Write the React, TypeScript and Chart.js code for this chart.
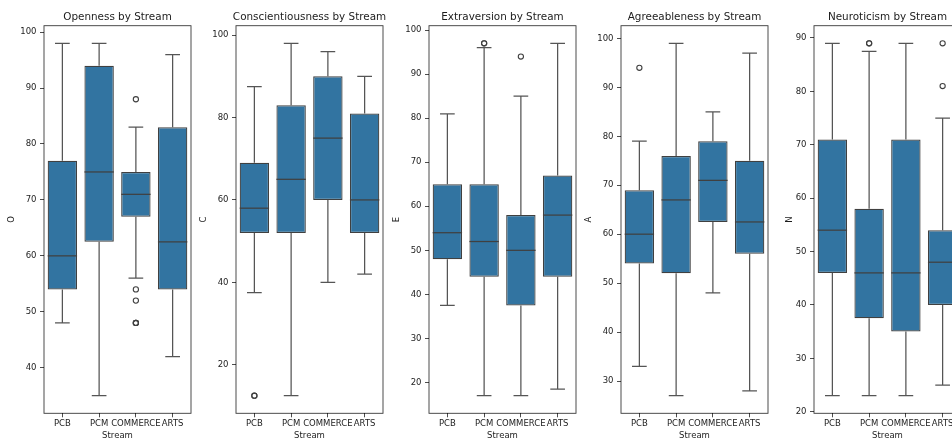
import React, { useEffect, useRef } from 'react';
import { Chart, registerables } from 'chart.js';

Chart.register(...registerables);

const streams = ['PCB', 'PCM', 'COMMERCE', 'ARTS'];

// Per-stream summaries: [lower whisker, Q1, median, Q3, upper whisker]
const openness = [
  [48, 54, 60, 77, 98],
  [35, 62.5, 75, 94, 98],
  [56, 67, 71, 75, 83],
  [42, 54, 62.5, 83, 96],
];
// Outliers as [stream index, value]
const opennessOutliers = [[2, 88], [2, 54], [2, 52], [2, 48], [2, 48], [2, 48]];
const opennessTicks = [40, 50, 60, 70, 80, 90, 100];

const conscientiousness = [
  [37.5, 52, 58, 69, 87.5],
  [12.5, 52, 65, 83, 98],
  [40, 60, 75, 90, 96],
  [42, 52, 60, 81, 90],
];
const conscientiousnessOutliers = [[0, 12.5], [0, 12.5]];
const conscientiousnessTicks = [20, 40, 60, 80, 100];

const extraversion = [
  [37.5, 48, 54, 65, 81],
  [17, 44, 52, 65, 96],
  [17, 37.5, 50, 58, 85],
  [18.5, 44, 58, 67, 97],
];
const extraversionOutliers = [[1, 97], [1, 97], [2, 94]];
const extraversionTicks = [20, 30, 40, 50, 60, 70, 80, 90, 100];

const agreeableness = [
  [33, 54, 60, 69, 79],
  [27, 52, 67, 76, 99],
  [48, 62.5, 71, 79, 85],
  [28, 56, 62.5, 75, 97],
];
const agreeablenessOutliers = [[0, 94]];
const agreeablenessTicks = [30, 40, 50, 60, 70, 80, 90, 100];

const neuroticism = [
  [23, 46, 54, 71, 89],
  [23, 37.5, 46, 58, 87.5],
  [23, 35, 46, 71, 89],
  [25, 40, 48, 54, 75],
];
const neuroticismOutliers = [[1, 89], [1, 89], [3, 89], [3, 81]];
const neuroticismTicks = [20, 30, 40, 50, 60, 70, 80, 90];

type Panel = {
  title: string;
  axisLabel: string;
  boxes: number[][];
  outliers: number[][];
  ticks: number[];
  labelOffset: number;
};

const panels: Panel[] = [
  { title: 'Openness by Stream', axisLabel: 'O', boxes: openness, outliers: opennessOutliers, ticks: opennessTicks, labelOffset: 32 },
  { title: 'Conscientiousness by Stream', axisLabel: 'C', boxes: conscientiousness, outliers: conscientiousnessOutliers, ticks: conscientiousnessTicks, labelOffset: 32 },
  { title: 'Extraversion by Stream', axisLabel: 'E', boxes: extraversion, outliers: extraversionOutliers, ticks: extraversionTicks, labelOffset: 32 },
  { title: 'Agreeableness by Stream', axisLabel: 'A', boxes: agreeableness, outliers: agreeablenessOutliers, ticks: agreeablenessTicks, labelOffset: 32 },
  { title: 'Neuroticism by Stream', axisLabel: 'N', boxes: neuroticism, outliers: neuroticismOutliers, ticks: neuroticismTicks, labelOffset: 24.4 },
];

// Layout
const FIG_W = 952;
const FIG_H = 441;
const FIRST_AXIS_LEFT = 43.7;
const PANEL_STEP = 192.5;
const AXIS_W = 147;
const Y_AXIS_W = 44;
const RIGHT_PAD = 12;
const PLOT_TOP = 25.7;
const PLOT_BOTTOM = 413.3;
const CANVAS_W = Y_AXIS_W + AXIS_W + RIGHT_PAD;

// Styles
const FONT = "'DejaVu Sans', 'Liberation Sans', sans-serif";
const BOX_FILL = '#3274a1';
const LINE = '#404040';
const WHISKER = '#555555';
const SPINE = 'rgba(0,0,0,0.78)';
const TEXT = '#1c1c1c';

function BoxPanel({ panel }: { panel: Panel }) {
  const ref = useRef<HTMLCanvasElement>(null);

  useEffect(() => {
    const canvas = ref.current;
    if (!canvas) return;
    const { boxes, outliers, ticks, title, axisLabel, labelOffset } = panel;
    const values = [...boxes.flat(), ...outliers.map((o) => o[1])];
    const lo = Math.min(...values);
    const hi = Math.max(...values);
    const margin = (hi - lo) * 0.05;

    const boxParts = {
      id: 'boxParts',
      beforeDatasetsDraw(chart: any) {
        const { ctx, scales } = chart;
        const xs = scales.x;
        const ys = scales.y;
        const bin = xs.getPixelForValue(1) - xs.getPixelForValue(0);
        const cap = bin * 0.2;
        ctx.save();
        ctx.strokeStyle = WHISKER;
        ctx.lineWidth = 1.25;
        boxes.forEach((b, i) => {
          const cx = xs.getPixelForValue(i);
          const yLow = ys.getPixelForValue(b[0]);
          const yQ1 = ys.getPixelForValue(b[1]);
          const yQ3 = ys.getPixelForValue(b[3]);
          const yHigh = ys.getPixelForValue(b[4]);
          ctx.beginPath();
          ctx.moveTo(cx, yQ3);
          ctx.lineTo(cx, yHigh);
          ctx.moveTo(cx, yQ1);
          ctx.lineTo(cx, yLow);
          ctx.moveTo(cx - cap, yHigh);
          ctx.lineTo(cx + cap, yHigh);
          ctx.moveTo(cx - cap, yLow);
          ctx.lineTo(cx + cap, yLow);
          ctx.stroke();
        });
        ctx.restore();
      },
      afterDatasetsDraw(chart: any) {
        const { ctx, scales, chartArea } = chart;
        const xs = scales.x;
        const ys = scales.y;
        const bin = xs.getPixelForValue(1) - xs.getPixelForValue(0);
        const half = bin * 0.4;
        ctx.save();
        ctx.strokeStyle = LINE;
        ctx.lineWidth = 1.25;
        boxes.forEach((b, i) => {
          const cx = xs.getPixelForValue(i);
          const ym = ys.getPixelForValue(b[2]);
          ctx.beginPath();
          ctx.moveTo(cx - half, ym);
          ctx.lineTo(cx + half, ym);
          ctx.stroke();
        });
        // axes frame
        ctx.strokeStyle = SPINE;
        ctx.lineWidth = 0.9;
        ctx.strokeRect(
          chartArea.left,
          chartArea.top,
          chartArea.right - chartArea.left,
          chartArea.bottom - chartArea.top
        );
        // panel title
        ctx.fillStyle = TEXT;
        ctx.font = `10.4px ${FONT}`;
        ctx.textAlign = 'center';
        ctx.textBaseline = 'alphabetic';
        ctx.fillText(title, (chartArea.left + chartArea.right) / 2, 20);
        ctx.restore();
      },
    };

    const tickFont = { family: FONT, size: 8.5 };

    const chart = new Chart(canvas, {
      type: 'bar',
      data: {
        labels: streams,
        datasets: [
          {
            type: 'bar',
            data: boxes.map((b) => [b[1], b[3]]),
            backgroundColor: BOX_FILL,
            borderColor: LINE,
            borderWidth: 1.25,
            borderSkipped: false,
            barPercentage: 0.8,
            categoryPercentage: 1,
          } as any,
          {
            type: 'scatter',
            data: outliers.map(([i, v]) => ({ x: streams[i], y: v })),
            pointStyle: 'circle',
            pointRadius: 2.6,
            pointBorderWidth: 1.1,
            pointBorderColor: LINE,
            pointBackgroundColor: 'rgba(0,0,0,0)',
            showLine: false,
          } as any,
        ],
      },
      options: {
        responsive: false,
        animation: false,
        events: [],
        layout: { padding: { left: 0, right: RIGHT_PAD, top: PLOT_TOP, bottom: 0 } },
        plugins: {
          legend: { display: false },
          tooltip: { enabled: false },
          title: { display: false },
        },
        scales: {
          x: {
            type: 'category',
            offset: true,
            grid: {
              display: true,
              drawOnChartArea: false,
              drawTicks: true,
              tickLength: 4,
              color: SPINE,
              lineWidth: 0.9,
              offset: false,
            },
            border: { display: false },
            ticks: {
              font: tickFont,
              color: TEXT,
              padding: 1.5,
              maxRotation: 0,
              minRotation: 0,
              autoSkip: false,
            },
            title: {
              display: true,
              text: 'Stream',
              font: tickFont,
              color: TEXT,
              padding: { top: 0, bottom: 0 },
            },
            afterFit: (s: any) => {
              s.height = FIG_H - PLOT_BOTTOM;
            },
          },
          y: {
            type: 'linear',
            bounds: 'data',
            min: lo - margin,
            max: hi + margin,
            afterBuildTicks: (s: any) => {
              s.ticks = ticks.map((v) => ({ value: v }));
            },
            grid: {
              display: true,
              drawOnChartArea: false,
              drawTicks: true,
              tickLength: 4,
              color: SPINE,
              lineWidth: 0.9,
            },
            border: { display: false },
            ticks: { font: tickFont, color: TEXT, padding: 3.5 },
            title: {
              display: true,
              text: axisLabel,
              font: tickFont,
              color: TEXT,
              padding: { top: Y_AXIS_W - labelOffset - 5.1, bottom: 0 },
            },
            afterFit: (s: any) => {
              s.width = Y_AXIS_W;
            },
          },
        },
      } as any,
      plugins: [boxParts],
    });

    return () => chart.destroy();
  }, [panel]);

  return <canvas ref={ref} width={CANVAS_W} height={FIG_H} style={{ display: 'block' }} />;
}

export default function App() {
  return (
    <div
      style={{
        position: 'fixed',
        left: 0,
        top: 0,
        width: FIG_W,
        height: FIG_H,
        overflow: 'hidden',
        background: '#ffffff',
      }}
    >
      {panels.map((p, i) => (
        <div
          key={p.axisLabel}
          style={{
            position: 'absolute',
            top: 0,
            left: Math.round(FIRST_AXIS_LEFT + PANEL_STEP * i - Y_AXIS_W),
            width: CANVAS_W,
            height: FIG_H,
          }}
        >
          <BoxPanel panel={p} />
        </div>
      ))}
    </div>
  );
}
